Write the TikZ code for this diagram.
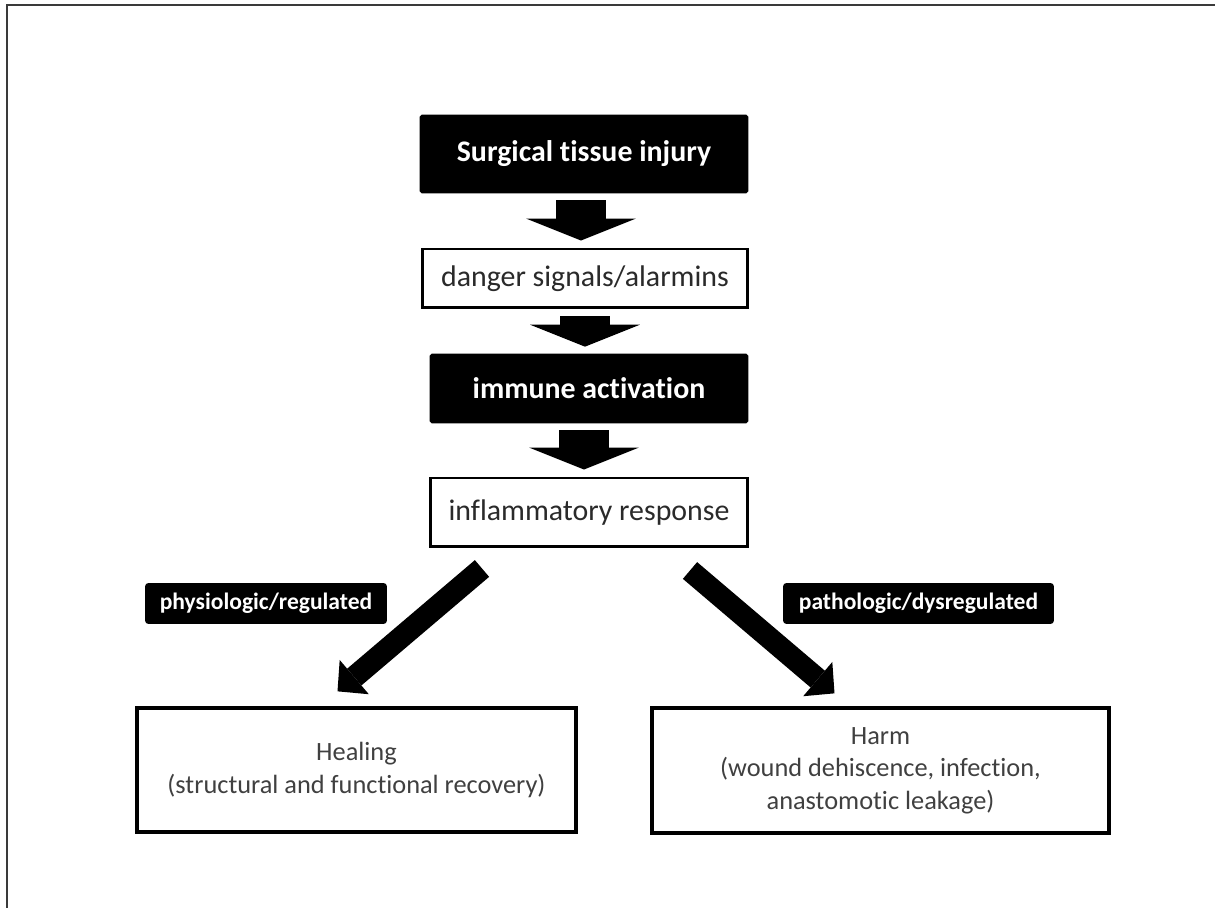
\documentclass[tikz,border=0pt]{standalone}
\usepackage{fontspec}
\setmainfont{Carlito}[Ligatures=NoCommon]
\usepackage{xcolor}
\usepackage{tikz}
\usetikzlibrary{arrows.meta}
\definecolor{ink}{HTML}{2a2a2a}
\definecolor{softink}{HTML}{404040}
\definecolor{rule}{HTML}{3a3a3a}

\begin{document}
\begin{tikzpicture}[x=0.02cm, y=-0.02cm,
  blackbox/.style={draw=black, fill=black, rounded corners=1pt, text=white, inner sep=0pt, font=\fontsize{17}{20}\selectfont\bfseries},
  whitebox/.style={draw=black, line width=1.7pt, fill=white, text=ink, inner sep=0pt, font=\fontsize{17}{20}\selectfont},
  outcome/.style={draw=black, line width=1.9pt, fill=white, align=center, text=softink, inner sep=0pt, font=\fontsize{15}{18.4}\selectfont},
  tag/.style={fill=black, rounded corners=2pt, text=white, inner sep=0pt, font=\fontsize{13.4}{15}\selectfont\bfseries},
  down/.style={line width=1cm, -{Triangle[length=0.44cm, width=2.2cm, line width=0pt]}, shorten <=0.14cm, shorten >=0.14cm},
  diag/.style={line width=0.44cm, -{Triangle[length=0.44cm, width=0.9cm, line width=0pt]}}]
  \useasboundingbox (0,0) rectangle (1215,908);
  \draw[rule, line width=0.6pt] (7,908) -- (7,5) -- (1215,5);
  \node[blackbox, minimum width=6.56cm, minimum height=1.56cm] (injury) at (584,154) {Surgical tissue injury};
  \node[whitebox, minimum width=6.52cm, minimum height=1.18cm] (danger) at (585,278.5) {danger signals/alarmins};
  \node[blackbox, minimum width=6.36cm, minimum height=1.38cm] (immune) at (589,388.5) {immune activation};
  \node[whitebox, minimum width=6.36cm, minimum height=1.38cm] (inflam) at (589,512.5) {inflammatory response};
  \node[tag, minimum width=4.84cm, minimum height=0.82cm] (physio) at (266,603.5) {physiologic/regulated};
  \node[tag, minimum width=5.42cm, minimum height=0.82cm] (patho) at (918.5,603.5) {pathologic/dysregulated};
  \node[outcome, minimum width=8.78cm, minimum height=2.48cm] (heal) at (356.5,770) {Healing\\(structural and functional recovery)};
  \node[outcome, minimum width=9.14cm, minimum height=2.5cm] (harm) at (880.5,770.5) {Harm\\(wound dehiscence, infection,\\anastomotic leakage)};
  \draw[down] ([xshift=-0.06cm]injury.south) -- ([xshift=-0.06cm]injury.south |- danger.north);
  \draw[down] (danger.south) -- (danger.south |- immune.north);
  \draw[down] ([xshift=-0.1cm]immune.south) -- ([xshift=-0.1cm]immune.south |- inflam.north);
  \draw[diag] ([shift={(-107,20)}]inflam.south) -- ([shift={(-19,-15)}]heal.north);
  \draw[diag] ([shift={(101,22)}]inflam.south) -- ([shift={(-46,-13)}]harm.north);
\end{tikzpicture}
\end{document}
